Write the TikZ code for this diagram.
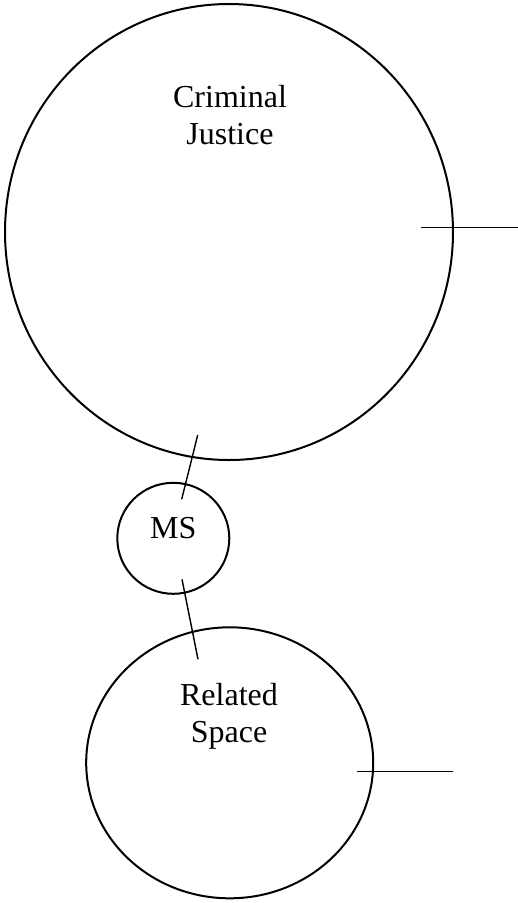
\documentclass[tikz,border=0pt]{standalone}
\usepackage{fontspec}
\setmainfont{Liberation Serif}
\usetikzlibrary{calc,positioning,shapes.geometric}

\begin{document}
\begin{tikzpicture}[x=1pt,y=-1pt,
	space/.style={draw, ellipse, line width=2pt, inner sep=0pt},
	link/.style={line width=1.4pt},
	lbl/.style={font=\fontsize{32}{36.7}\selectfont, align=center, inner sep=0pt}]
	\useasboundingbox (0,0) rectangle (518,903);
	\node[space, minimum width=448pt, minimum height=456pt] at (229,232) (cj) {};
	\node[space, minimum width=112pt, minimum height=111pt] at (173.3,538.3) (ms) {};
	\node[space, minimum width=287pt, minimum height=271pt] at (229.7,762.8) (rs) {};
	\node[lbl] at (230,115) (cjtext) {Criminal\\Justice};
	\node[lbl, anchor=base] at (173.2,538.3) (mstext) {MS};
	\node[lbl] at (229,716) (rstext) {Related\\Space};
	% stubs
	\coordinate (cjin) at (421,227.3);
	\coordinate (cjout) at (518,227.3);
	\coordinate (rsin) at (356.7,771.7);
	\coordinate (rsout) at (453.3,771.7);
	\coordinate (up1) at (197.7,435);
	\coordinate (up2) at (181.7,499.3);
	\coordinate (lo1) at (182,579.3);
	\coordinate (lo2) at (198,659.3);
	\draw[link] (cjin) -- (cjout);
	\draw[link] (rsin) -- (rsout);
	\draw[link] (up1) -- (up2);
	\draw[link] (lo1) -- (lo2);
\end{tikzpicture}
\end{document}
